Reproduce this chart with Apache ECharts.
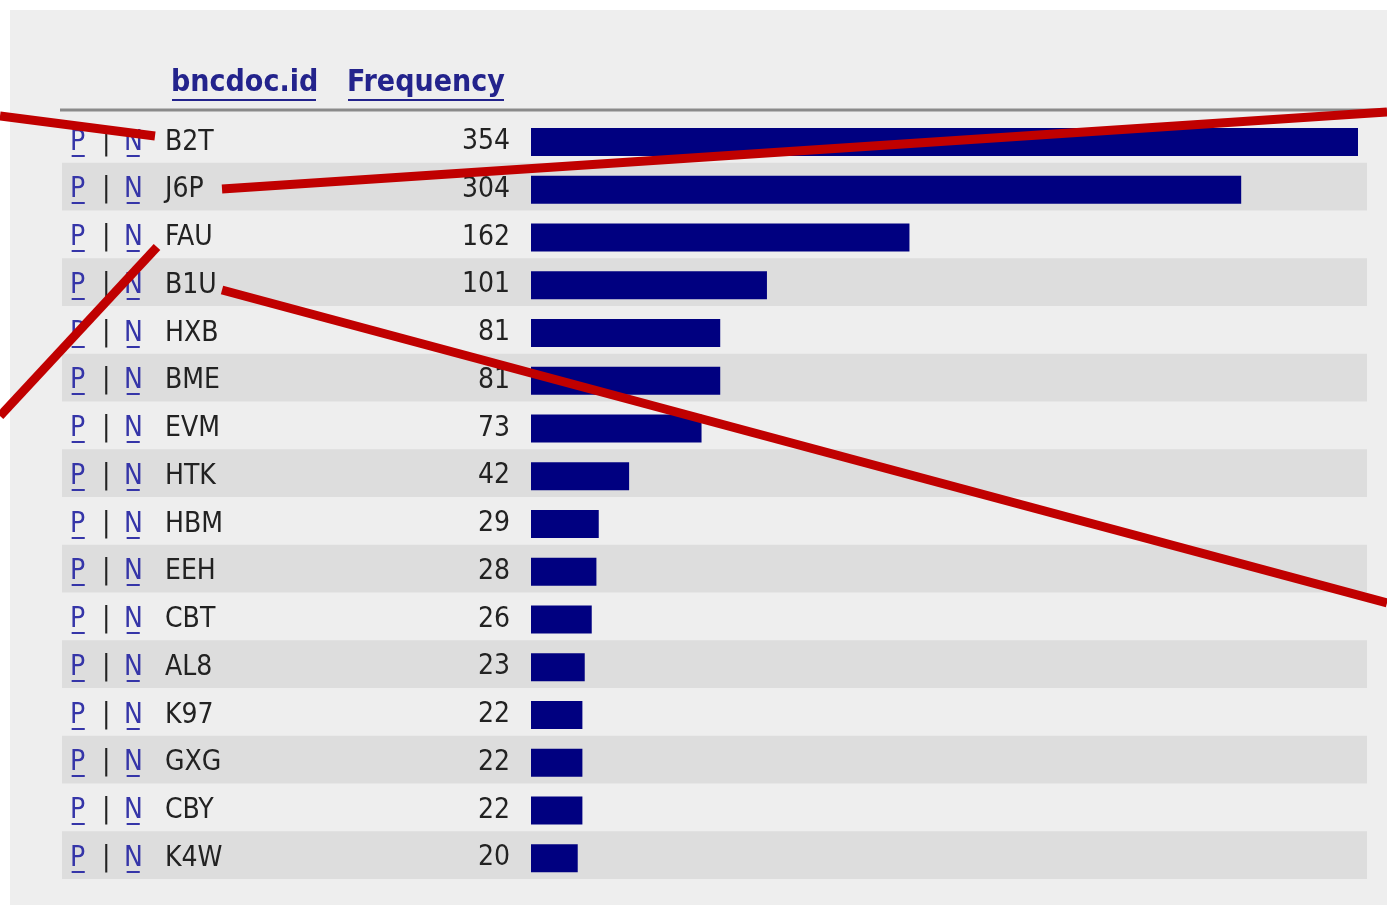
<!DOCTYPE html>
<html>
<head>
<meta charset="utf-8">
<script src="https://cdn.jsdelivr.net/npm/echarts@6/dist/echarts.min.js"></script>
<style>
  html, body { margin: 0; padding: 0; background: #fff; }
  #main { width: 1387px; height: 905px; }
</style>
</head>
<body>
<div id="main"></div>
<script>
// rows of the frequency table, top to bottom
const docIds = ['B2T', 'J6P', 'FAU', 'B1U', 'HXB', 'BME', 'EVM', 'HTK',
                'HBM', 'EEH', 'CBT', 'AL8', 'K97', 'GXG', 'CBY', 'K4W'];
const frequency = [354, 304, 162, 101, 81, 81, 73, 42, 29, 28, 26, 23, 22, 22, 22, 20];
const headers = ['bncdoc.id', 'Frequency'];
const links = ['P', 'N'];

const font = '"DejaVu Sans Condensed", "DejaVu Sans", sans-serif';
const UL = '\u0332';

let chart = echarts.init(document.getElementById('main'));

let rowLabel = (id) => {
  return '{p|' + links[0] + UL + '}{s||}{n|' + links[1] + UL + '}{id|' + id + '}';
};

// red callout strokes drawn over the screenshot
let callouts = [
  [0, 116, 155, 136],
  [222, 189, 1387, 112],
  [157, 247, 0, 416],
  [222, 290, 1387, 603]
];

let option = {
  backgroundColor: '#fff',
  animation: false,
  graphic: [
    { type: 'rect', z: -100, silent: true,
      shape: { x: 10, y: 10, width: 1377, height: 895 },
      style: { fill: '#eeeeee' } },
    { type: 'line', z: 50, silent: true,
      shape: { x1: 60, y1: 110, x2: 1387, y2: 110 },
      style: { stroke: '#8a8a8a', lineWidth: 3 } },
    { type: 'text', z: 50, left: 171, top: 68,
      style: { text: headers[0], fill: '#23238c', font: 'bold 30px ' + font } },
    { type: 'line', z: 50, shape: { x1: 172, y1: 100, x2: 316, y2: 100 },
      style: { stroke: '#23238c', lineWidth: 2 } },
    { type: 'text', z: 50, left: 347, top: 68,
      style: { text: headers[1], fill: '#23238c', font: 'bold 30px ' + font } },
    { type: 'line', z: 50, shape: { x1: 348, y1: 100, x2: 504, y2: 100 },
      style: { stroke: '#23238c', lineWidth: 2 } }
  ].concat(callouts.map((c) => ({
    type: 'line', z: 200, silent: true,
    shape: { x1: c[0], y1: c[1], x2: c[2], y2: c[3] },
    style: { stroke: '#c00000', lineWidth: 9 }
  }))),
  grid: [
    { left: 62, right: 20, top: 115, height: 764 },
    { left: 531, right: 29, top: 118, height: 764 }
  ],
  xAxis: [
    { gridIndex: 0, type: 'value', show: false, min: 0, max: 1 },
    { gridIndex: 1, type: 'value', show: false, min: 0, max: 354 }
  ],
  yAxis: [
    {
      gridIndex: 0,
      type: 'category',
      inverse: true,
      data: docIds,
      axisLine: { show: false },
      axisTick: { show: false },
      splitLine: { show: false },
      splitArea: {
        show: true,
        areaStyle: { color: ['rgba(0,0,0,0)', '#dddddd'] }
      },
      axisLabel: {
        inside: true,
        margin: 8,
        padding: [7, 0, 0, 0],
        formatter: rowLabel,
        rich: {
          p: { width: 32, color: '#3535a8', fontSize: 28, fontFamily: font },
          s: { width: 22, color: '#222', fontSize: 28, fontFamily: font },
          n: { width: 41, color: '#3535a8', fontSize: 28, fontFamily: font },
          id: { color: '#222', fontSize: 28, fontFamily: font }
        }
      }
    },
    {
      gridIndex: 1,
      type: 'category',
      inverse: true,
      data: docIds,
      show: false
    }
  ],
  series: [
    {
      type: 'bar',
      xAxisIndex: 1,
      yAxisIndex: 1,
      data: frequency,
      barWidth: 28,
      itemStyle: { color: '#000080' },
      label: {
        show: true,
        position: 'left',
        distance: 21,
        color: '#222',
        fontSize: 28,
        fontFamily: font
      }
    }
  ]
};

chart.setOption(option);
</script>
</body>
</html>
